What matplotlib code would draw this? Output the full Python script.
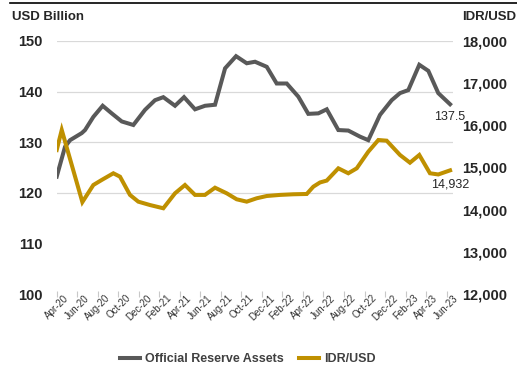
import matplotlib
matplotlib.use("Agg")
import matplotlib.pyplot as plt
from matplotlib.lines import Line2D

plt.rcParams["font.family"] = ["Liberation Sans", "DejaVu Sans"]

# months counted from Apr-20 (0 = start of Apr-20)
tick_labels = ["Apr-20", "Jun-20", "Aug-20", "Oct-20", "Dec-20", "Feb-21", "Apr-21",
               "Jun-21", "Aug-21", "Oct-21", "Dec-21", "Feb-22", "Apr-22", "Jun-22",
               "Aug-22", "Oct-22", "Dec-22", "Feb-23", "Apr-23", "Jun-23"]
tick_months = list(range(0, 39, 2))

# official reserve assets, USD billion
res_month = [0.0, 0.81, 1.30, 2.44, 2.76, 3.57, 4.48, 5.36, 6.34, 7.47, 8.61, 9.58,
             10.39, 11.53, 12.41, 13.48, 14.46, 15.43, 16.41, 17.48, 18.52, 19.33,
             20.47, 21.44, 22.42, 23.55, 24.52, 25.50, 26.32, 27.45, 28.42, 29.56,
             30.37, 31.51, 32.65, 33.46, 34.27, 35.34, 36.22, 37.19, 38.34]
res_value = [123.2, 129.1, 130.4, 131.8, 132.4, 135.0, 137.2, 135.7, 134.1, 133.4,
             136.4, 138.3, 138.9, 137.2, 138.9, 136.5, 137.2, 137.4, 144.6, 147.0,
             145.6, 145.9, 144.9, 141.6, 141.6, 139.0, 135.6, 135.7, 136.5, 132.4,
             132.3, 131.1, 130.4, 135.4, 138.3, 139.7, 140.3, 145.3, 144.1, 139.7,
             137.5]

# rupiah exchange rate, IDR per USD
idr_month = [0.0, 0.49, 2.50, 3.57, 4.39, 5.52, 6.17, 7.14, 7.95, 9.09, 10.39, 11.53,
             12.50, 13.48, 14.45, 15.43, 16.57, 17.54, 18.52, 19.49, 20.47, 21.76,
             23.06, 24.37, 25.01, 25.66, 26.32, 27.45, 28.42, 29.24, 30.37, 31.35,
             32.16, 33.46, 34.43, 35.34, 36.38, 37.19, 38.34]
idr_value = [15415, 15890, 14180, 14585, 14705, 14863, 14782, 14350, 14190, 14110,
             14033, 14388, 14585, 14350, 14350, 14521, 14388, 14246, 14190, 14270,
             14324, 14350, 14365, 14372, 14545, 14645, 14690, 14980, 14863, 14980,
             15375, 15652, 15636, 15297, 15114, 15297, 14863, 14835, 14932]

left_ticks = [100, 110, 120, 130, 140, 150]
right_ticks = [12000, 13000, 14000, 15000, 16000, 17000, 18000]

GREY = "#595959"
GOLD = "#bf9000"
TEXT = "#262626"


def main():
    fig = plt.figure(figsize=(5.17, 3.70), dpi=100)
    ax = fig.add_axes([0.1097, 0.2054, 0.7666, 0.6838])
    ax2 = ax.twinx()

    ax.plot(res_month, res_value, color=GREY, lw=2.9, solid_joinstyle="miter", zorder=3)
    ax2.plot(idr_month, idr_value, color=GOLD, lw=2.9, solid_joinstyle="miter", zorder=3)

    ax.set_xlim(0, 38.63)
    ax.set_ylim(100, 150)
    ax2.set_ylim(12000, 18000)

    ax.set_yticks(left_ticks)
    ax.set_yticklabels([str(v) for v in left_ticks])
    ax2.set_yticks(right_ticks)
    ax2.set_yticklabels([f"{v:,}" for v in right_ticks])

    ax.set_xticks(tick_months)
    ax.set_xticklabels(tick_labels, rotation=45, ha="center", va="top",
                       fontsize=7, color="#333333")

    ax.tick_params(axis="y", length=0, pad=10, labelsize=10.5, labelcolor=TEXT)
    ax2.tick_params(axis="y", length=0, pad=6.5, labelsize=10.5, labelcolor=TEXT)
    ax.tick_params(axis="x", direction="inout", length=4.5, width=0.8,
                   color="#c8c8c8", pad=-3)
    for lab in ax.get_yticklabels() + ax2.get_yticklabels():
        lab.set_fontweight("bold")

    # horizontal gridlines only from 120 upwards
    ax.grid(axis="y", color="#d9d9d9", lw=0.9)
    for val, gl in zip(ax.get_yticks(), ax.yaxis.get_gridlines()):
        if val < 120:
            gl.set_visible(False)
    ax.set_axisbelow(True)

    for a in (ax, ax2):
        for sp in a.spines.values():
            sp.set_visible(False)

    # end-of-period values
    ax.annotate(f"{res_value[-1]}", (res_month[-1], res_value[-1]),
                xytext=(0, -9.5), textcoords="offset points",
                ha="center", va="center", fontsize=9, color=TEXT)
    ax2.annotate(f"{idr_value[-1]:,}", (idr_month[-1], idr_value[-1]),
                 xytext=(0, -10), textcoords="offset points",
                 ha="center", va="center", fontsize=9, color=TEXT)

    fig.text(0.024, 0.955, "USD Billion", fontsize=9.5, fontweight="bold",
             color=TEXT, ha="left", va="center")
    fig.text(0.998, 0.955, "IDR/USD", fontsize=9.5, fontweight="bold",
             color=TEXT, ha="right", va="center")

    handles = [Line2D([], [], color=GREY, lw=2.9),
               Line2D([], [], color=GOLD, lw=2.9)]
    fig.legend(handles, ["Official Reserve Assets", "IDR/USD"],
               loc="center", bbox_to_anchor=(0.479, 0.03), ncol=2,
               frameon=False, handlelength=1.6, handletextpad=0.4,
               columnspacing=1.2, prop={"size": 9, "weight": "bold"},
               labelcolor="#404040")

    # rule across the top of the panel
    fig.add_artist(Line2D([10 / 517, 1.0], [0.9932, 0.9932], color="black", lw=1.2,
                          transform=fig.transFigure))

    fig.savefig("out.png", dpi=100, facecolor="white")
    plt.close(fig)


if __name__ == "__main__":
    main()
